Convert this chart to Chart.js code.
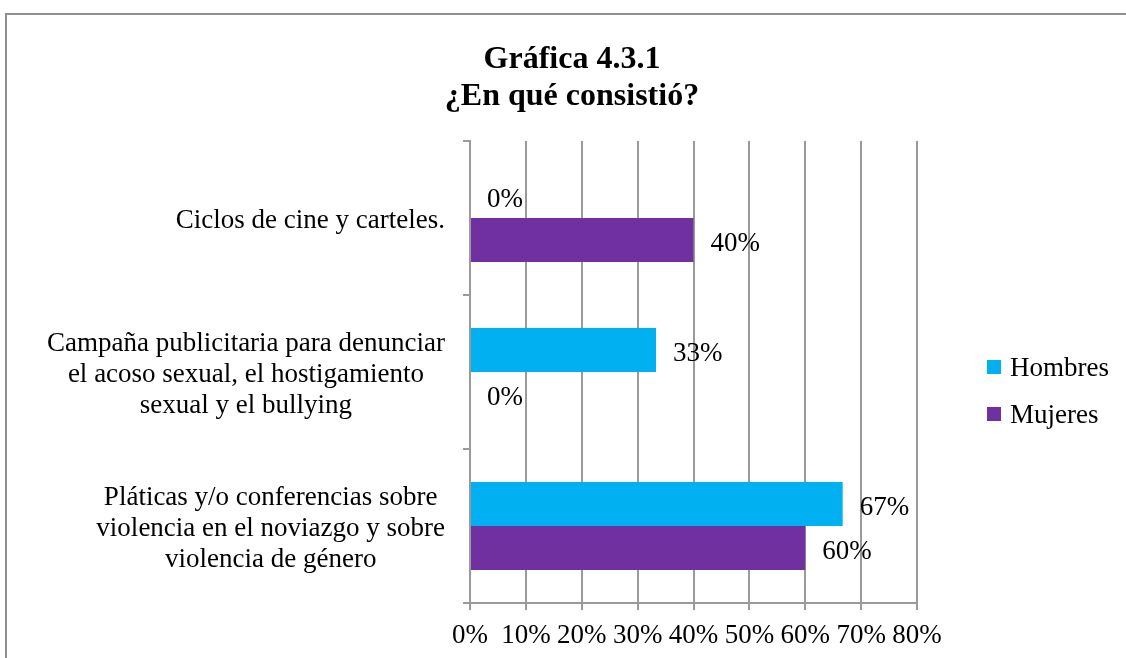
<!DOCTYPE html>
<html><head><meta charset="utf-8">
<script src="https://cdn.jsdelivr.net/npm/chart.js@4.4.0/dist/chart.umd.min.js"></script>
<style>
html,body{margin:0;padding:0;background:#fff;overflow:hidden;}
#frame{position:absolute;left:5px;top:13px;width:1130px;height:660px;border:2px solid #8f8f8f;background:#fff;}
canvas{display:block;}
</style></head><body>
<div id="frame"><canvas id="c" width="1130" height="660"></canvas></div>
<script>
const titleLines = ['Gráfica 4.3.1', '¿En qué consistió?'];
const categories = [
  ['Ciclos de cine y carteles.'],
  ['Campaña publicitaria para denunciar', 'el acoso sexual, el hostigamiento', 'sexual y el bullying'],
  ['Pláticas y/o conferencias sobre', 'violencia en el noviazgo y sobre', 'violencia de género']
];
const seriesNames = ['Hombres', 'Mujeres'];
const hombres = [0, 33.3, 66.7];
const mujeres = [40, 0, 60];
const xTickLabels = ['0%', '10%', '20%', '30%', '40%', '50%', '60%', '70%', '80%'];
const seriesColors = ['#00B0F0', '#7030A0'];

const FONT = "'Liberation Serif', 'Times New Roman', serif";
const GRID = '#9a9a9a';

const categoryLabelsPlugin = {
  id: 'catLabels',
  afterDraw(chart) {
    const ctx = chart.ctx, ys = chart.scales.y;
    const rightEdge = ys.right - 25;
    ctx.save();
    ctx.font = '27px ' + FONT;
    ctx.fillStyle = '#000';
    ctx.textAlign = 'center';
    ctx.textBaseline = 'alphabetic';
    chart.data.labels.forEach((lines, i) => {
      const yc = ys.getPixelForValue(i);
      const w = Math.max(...lines.map(l => ctx.measureText(l).width));
      const cx = rightEdge - w / 2;
      const n = lines.length;
      lines.forEach((l, j) => {
        ctx.fillText(l, cx, yc + 10.5 + (j - (n - 1) / 2) * 31);
      });
    });
    ctx.restore();
  }
};

const valueLabelsPlugin = {
  id: 'valueLabels',
  afterDatasetsDraw(chart) {
    const ctx = chart.ctx;
    ctx.save();
    ctx.font = '27px ' + FONT;
    ctx.fillStyle = '#000';
    ctx.textAlign = 'left';
    ctx.textBaseline = 'alphabetic';
    chart.data.datasets.forEach((ds, di) => {
      const meta = chart.getDatasetMeta(di);
      meta.data.forEach((el, i) => {
        ctx.fillText(Math.round(ds.data[i]) + '%', el.x + 17, el.y + 11.5);
      });
    });
    ctx.restore();
  }
};

const legendPlugin = {
  id: 'customLegend',
  afterDraw(chart) {
    const ctx = chart.ctx;
    const x = chart.chartArea.right + 70;
    const yTop = 345;
    const step = 47;
    ctx.save();
    ctx.font = '27px ' + FONT;
    ctx.textAlign = 'left';
    ctx.textBaseline = 'alphabetic';
    chart.data.datasets.forEach((ds, i) => {
      const y = yTop + i * step;
      ctx.fillStyle = ds.backgroundColor;
      ctx.fillRect(x, y, 14, 14);
      ctx.fillStyle = '#000';
      ctx.fillText(ds.label, x + 23, y + 16);
    });
    ctx.restore();
  }
};

new Chart(document.getElementById('c'), {
  type: 'bar',
  data: {
    labels: categories,
    datasets: [
      { label: seriesNames[0], data: hombres, backgroundColor: seriesColors[0] },
      { label: seriesNames[1], data: mujeres, backgroundColor: seriesColors[1] }
    ]
  },
  options: {
    indexAxis: 'y',
    responsive: false,
    animation: false,
    devicePixelRatio: 1,
    categoryPercentage: 0.5714,
    barPercentage: 1,
    layout: { padding: 0 },
    plugins: {
      legend: { display: false },
      tooltip: { enabled: false },
      title: {
        display: true,
        text: titleLines,
        color: '#000',
        font: { family: FONT, size: 32, weight: 'bold', lineHeight: 1.156 },
        padding: { top: 26, bottom: 26 }
      }
    },
    scales: {
      x: {
        min: 0, max: 80,
        ticks: {
          stepSize: 10,
          color: '#000',
          padding: 10,
          font: { family: FONT, size: 27, lineHeight: 1.2 },
          callback: (v, i) => xTickLabels[i]
        },
        grid: { color: GRID, lineWidth: 2, drawTicks: true, tickLength: 7 },
        border: { display: true, color: GRID, width: 2 },
        afterFit: s => { s.height = 72; }
      },
      y: {
        ticks: { display: false },
        grid: { display: true, drawOnChartArea: false, drawTicks: true, tickLength: 7, color: GRID, lineWidth: 2 },
        border: { display: true, color: GRID, width: 2 },
        afterFit: s => { s.width = 463; }
      },
      spacer: {
        type: 'linear',
        axis: 'y',
        position: 'right',
        display: true,
        grid: { display: false },
        border: { display: false },
        ticks: { display: false },
        afterFit: s => { s.width = 220; }
      }
    }
  },
  plugins: [categoryLabelsPlugin, valueLabelsPlugin, legendPlugin]
});
</script>
</body></html>
